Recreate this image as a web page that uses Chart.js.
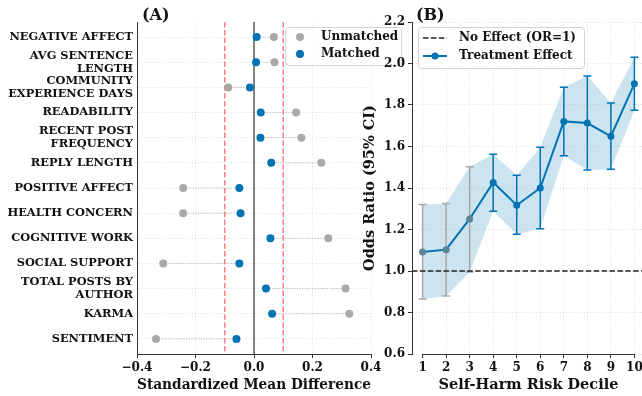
<!DOCTYPE html>
<html>
<head>
<meta charset="utf-8">
<script src="https://cdn.jsdelivr.net/npm/chart.js@4.4.1/dist/chart.umd.min.js"></script>
<style>
  html, body { margin: 0; padding: 0; background: #fff; overflow: hidden; }
  #wrap { position: relative; width: 642px; height: 396px; overflow: hidden; }
  canvas { position: absolute; left: 0; top: 0; }
</style>
</head>
<body>
<div id="wrap">
  <canvas id="smd" width="642" height="396"></canvas>
  <canvas id="odds" width="660" height="396"></canvas>
</div>
<script>
// Panel A - covariate balance before / after matching
const features = ['NEGATIVE AFFECT', 'AVG SENTENCE LENGTH', 'COMMUNITY EXPERIENCE DAYS', 'READABILITY',
                  'RECENT POST FREQUENCY', 'REPLY LENGTH', 'POSITIVE AFFECT', 'HEALTH CONCERN',
                  'COGNITIVE WORK', 'SOCIAL SUPPORT', 'TOTAL POSTS BY AUTHOR', 'KARMA', 'SENTIMENT'];
const unmatchedSMD = [0.068, 0.070, -0.088, 0.144, 0.162, 0.230, -0.242, -0.242, 0.254, -0.310, 0.313, 0.326, -0.335];
const matchedSMD   = [0.009, 0.007, -0.014, 0.023, 0.022, 0.059, -0.050, -0.046, 0.056, -0.050, 0.041, 0.062, -0.060];
const smdTicks = [-0.4, -0.2, 0.0, 0.2, 0.4];
const balanceLimit = 0.1;

// Panel B - odds ratio by risk decile
const deciles   = [1, 2, 3, 4, 5, 6, 7, 8, 9, 10];
const oddsRatio = [1.092, 1.103, 1.251, 1.427, 1.317, 1.400, 1.721, 1.713, 1.649, 1.903];
const ciLow     = [0.865, 0.880, 0.995, 1.288, 1.177, 1.204, 1.556, 1.487, 1.490, 1.775];
const ciHigh    = [1.320, 1.325, 1.502, 1.563, 1.461, 1.596, 1.885, 1.940, 1.810, 2.030];
const oddsTicks = [0.6, 0.8, 1.0, 1.2, 1.4, 1.6, 1.8, 2.0, 2.2];

const SERIF = '"DejaVu Serif", serif';
const BLUE = '#0173b2';
const GRAY = '#a9a9a9';
const GRID = 'rgba(0,0,0,0.14)';

Chart.defaults.font.family = SERIF;
Chart.defaults.font.weight = 'bold';
Chart.defaults.color = '#111';
Chart.defaults.animation = false;

function wrapLabel(text, width) {
    var lines = [], cur = '';
    text.split(' ').forEach(function(w){
        if (cur && (cur + ' ' + w).length > width) { lines.push(cur); cur = w; }
        else { cur = cur ? cur + ' ' + w : w; }
    });
    lines.push(cur);
    return lines;
}

function fmtTick(v){
    var s = Math.abs(v) < 1e-9 ? '0.0' : v.toFixed(1);
    return s.replace('-', '\u2212');
}

//Panel letter on top left of the plot area
const panelTitle = {
    id: 'panelTitle',
    afterDraw(chart, args, o){
        const ctx = chart.ctx;
        ctx.save();
        ctx.font = 'bold 16px ' + SERIF;
        ctx.fillStyle = '#111';
        ctx.textBaseline = 'middle';
        ctx.fillText(o.text, chart.chartArea.left + o.dx, 15.5);
        ctx.restore();
    }
};

//Framed legend drawn inside the plot
const boxLegend = {
    id: 'boxLegend',
    afterDraw(chart, args, o){
        const ctx = chart.ctx;
        ctx.save();
        ctx.fillStyle = 'rgba(255,255,255,0.8)';
        ctx.strokeStyle = '#d3d3d3';
        ctx.lineWidth = 1;
        ctx.beginPath();
        ctx.roundRect(o.x + 0.5, o.y + 0.5, o.w, o.h, 3);
        ctx.fill();
        ctx.stroke();
        ctx.font = 'bold 12px ' + SERIF;
        ctx.textBaseline = 'middle';
        o.items.forEach(function(it, k){
            const cy = o.y + o.first + k * o.step;
            const sx = o.x + o.symX;
            if (it.line) {
                ctx.strokeStyle = it.line;
                ctx.lineWidth = it.width;
                ctx.setLineDash(it.dash || []);
                ctx.beginPath();
                ctx.moveTo(sx - 12, cy);
                ctx.lineTo(sx + 12, cy);
                ctx.stroke();
                ctx.setLineDash([]);
            }
            if (it.dot) {
                ctx.fillStyle = it.dot;
                ctx.beginPath();
                ctx.arc(sx, cy, it.r, 0, Math.PI * 2);
                ctx.fill();
            }
            ctx.fillStyle = '#111';
            ctx.fillText(it.label, o.x + o.textX, cy);
        });
        ctx.restore();
    }
};

// ---------- Panel A ----------
const rowLabels = features.map(function(f){ return wrapLabel(f, 15); });
const rowMin = -0.6, rowMax = features.length - 1 + 0.6;

var connectors = [];
features.forEach(function(f, i){
    connectors.push({x: unmatchedSMD[i], y: i}, {x: matchedSMD[i], y: i}, {x: null, y: null});
});

new Chart(document.getElementById('smd'), {
    type: 'scatter',
    data: {
        datasets: [
            {
                label: 'Matched',
                data: features.map(function(f, i){ return {x: matchedSMD[i], y: i}; }),
                backgroundColor: BLUE, borderColor: BLUE, pointRadius: 4, borderWidth: 0
            },
            {
                label: 'Unmatched',
                data: features.map(function(f, i){ return {x: unmatchedSMD[i], y: i}; }),
                backgroundColor: GRAY, borderColor: GRAY, pointRadius: 4, borderWidth: 0
            },
            {
                data: connectors, showLine: true, spanGaps: false, pointRadius: 0,
                borderColor: 'rgba(150,150,150,0.7)', borderWidth: 1, borderDash: [1, 1.5]
            },
            {
                data: [{x: 0, y: rowMin}, {x: 0, y: rowMax}], showLine: true, pointRadius: 0,
                borderColor: 'rgba(0,0,0,0.6)', borderWidth: 1.6
            },
            {
                data: [{x: -balanceLimit, y: rowMin}, {x: -balanceLimit, y: rowMax}], showLine: true, pointRadius: 0,
                borderColor: 'rgba(255,0,0,0.5)', borderWidth: 1.5, borderDash: [5.5, 2.4]
            },
            {
                data: [{x: balanceLimit, y: rowMin}, {x: balanceLimit, y: rowMax}], showLine: true, pointRadius: 0,
                borderColor: 'rgba(255,0,0,0.5)', borderWidth: 1.5, borderDash: [5.5, 2.4]
            }
        ]
    },
    options: {
        responsive: false,
        devicePixelRatio: 1,
        layout: { padding: { left: 0, top: 22, right: 642 - 371, bottom: 0 } },
        plugins: {
            legend: { display: false },
            tooltip: { enabled: false },
            panelTitle: { text: '(A)', dx: 5 },
            boxLegend: {
                x: 285, y: 27, w: 116, h: 38, first: 10, step: 17, symX: 15, textX: 36,
                items: [
                    { label: 'Unmatched', dot: GRAY, r: 4 },
                    { label: 'Matched', dot: BLUE, r: 4 }
                ]
            }
        },
        scales: {
            x: {
                type: 'linear', min: -0.4, max: 0.4,
                afterBuildTicks: function(s){ s.ticks = smdTicks.map(function(v){ return {value: v}; }); },
                afterFit: function(s){ s.height = 42; },
                ticks: { callback: fmtTick, font: { size: 12, weight: 'bold' }, padding: 3, color: '#111', maxRotation: 0 },
                grid: { color: GRID, lineWidth: 0.8, tickLength: 4, tickColor: '#333', tickWidth: 1 },
                border: { display: true, color: '#333', width: 1, dash: [1, 2] },
                title: { display: true, text: 'Standardized Mean Difference', font: { size: 14.5, weight: 'bold' }, color: '#111', padding: { top: 0, bottom: 2 } }
            },
            y: {
                type: 'linear', reverse: true, min: rowMin, max: rowMax,
                afterBuildTicks: function(s){ s.ticks = features.map(function(f, i){ return {value: i}; }); },
                afterFit: function(s){ s.width = 137; },
                ticks: { autoSkip: false, callback: function(v){ return rowLabels[v]; }, font: { size: 11.4, weight: 'bold', lineHeight: 1.12 }, padding: 4, color: '#111' },
                grid: { drawTicks: false, color: GRID, lineWidth: 0.8 },
                border: { display: true, color: '#333', width: 1, dash: [1, 2] }
            }
        }
    },
    plugins: [panelTitle, boxLegend]
});

// ---------- Panel B ----------
const xMinB = 0.55, xMaxB = 10.45;

//CI error bars, drawn over the band
const errorBars = {
    id: 'errorBars',
    afterDatasetDraw(chart, args){
        if (args.index !== 2) return;
        const ctx = chart.ctx, x = chart.scales.x, y = chart.scales.y;
        ctx.save();
        ctx.lineWidth = 1.5;
        deciles.forEach(function(d, i){
            const px = x.getPixelForValue(d);
            const top = y.getPixelForValue(ciHigh[i]);
            const bot = y.getPixelForValue(ciLow[i]);
            ctx.strokeStyle = ciLow[i] > 1 ? BLUE : '#a8a8a8';
            ctx.beginPath();
            ctx.moveTo(px, top); ctx.lineTo(px, bot);
            ctx.moveTo(px - 4, top); ctx.lineTo(px + 4, top);
            ctx.moveTo(px - 4, bot); ctx.lineTo(px + 4, bot);
            ctx.stroke();
        });
        ctx.restore();
    }
};

//bottom spine trimmed to the first / last decile
const trimSpine = {
    id: 'trimSpine',
    afterDraw(chart){
        const ctx = chart.ctx, x = chart.scales.x;
        const yb = Math.round(chart.chartArea.bottom) + 0.5;
        ctx.save();
        ctx.strokeStyle = '#333';
        ctx.lineWidth = 1;
        ctx.beginPath();
        ctx.moveTo(x.getPixelForValue(deciles[0]), yb);
        ctx.lineTo(x.getPixelForValue(deciles[deciles.length - 1]), yb);
        ctx.stroke();
        ctx.restore();
    }
};

new Chart(document.getElementById('odds'), {
    type: 'line',
    data: {
        datasets: [
            {
                label: 'Treatment Effect',
                data: deciles.map(function(d, i){ return {x: d, y: oddsRatio[i]}; }),
                borderColor: BLUE, borderWidth: 2, tension: 0,
                pointRadius: 3.5, pointBorderWidth: 0,
                pointBackgroundColor: ciLow.map(function(l){ return l > 1 ? BLUE : '#5f8399'; })
            },
            {
                label: 'No Effect (OR=1)',
                data: [{x: xMinB, y: 1}, {x: xMaxB, y: 1}],
                borderColor: '#222', borderWidth: 1.5, borderDash: [5.5, 2.4], pointRadius: 0
            },
            {
                data: deciles.map(function(d, i){ return {x: d, y: ciHigh[i]}; }),
                borderWidth: 0, pointRadius: 0, fill: false
            },
            {
                data: deciles.map(function(d, i){ return {x: d, y: ciLow[i]}; }),
                borderWidth: 0, pointRadius: 0, fill: '-1', backgroundColor: 'rgba(1,115,178,0.2)'
            }
        ]
    },
    options: {
        responsive: false,
        devicePixelRatio: 1,
        layout: { padding: { left: 358, top: 22, right: 660 - 645, bottom: 0 } },
        plugins: {
            legend: { display: false },
            tooltip: { enabled: false },
            panelTitle: { text: '(B)', dx: 4 },
            boxLegend: {
                x: 418, y: 27, w: 166, h: 41, first: 11, step: 18, symX: 17, textX: 41,
                items: [
                    { label: 'No Effect (OR=1)', line: '#222', width: 1.5, dash: [5.5, 2.4] },
                    { label: 'Treatment Effect', line: BLUE, width: 2, dot: BLUE, r: 3.5 }
                ]
            }
        },
        scales: {
            x: {
                type: 'linear', min: xMinB, max: xMaxB,
                afterBuildTicks: function(s){ s.ticks = deciles.map(function(v){ return {value: v}; }); },
                afterFit: function(s){ s.height = 42; },
                ticks: { font: { size: 12, weight: 'bold' }, padding: 3, color: '#111', maxRotation: 0 },
                grid: { color: GRID, lineWidth: 0.8, tickLength: 4, tickColor: '#333', tickWidth: 1 },
                border: { display: false, dash: [1, 2] },
                title: { display: true, text: 'Self-Harm Risk Decile', font: { size: 14.5, weight: 'bold' }, color: '#111', padding: { top: 0, bottom: 2 } }
            },
            y: {
                type: 'linear', min: oddsTicks[0], max: oddsTicks[oddsTicks.length - 1],
                afterBuildTicks: function(s){ s.ticks = oddsTicks.map(function(v){ return {value: v}; }); },
                afterFit: function(s){ s.width = 412 - 358; },
                ticks: { callback: fmtTick, font: { size: 12, weight: 'bold' }, padding: 3, color: '#111' },
                grid: { color: GRID, lineWidth: 0.8, tickLength: 4, tickColor: '#333', tickWidth: 1 },
                border: { display: true, color: '#333', width: 1, dash: [1, 2] },
                title: { display: true, text: 'Odds Ratio (95% CI)', font: { size: 14.5, weight: 'bold' }, color: '#111', padding: { top: 4, bottom: 0 } }
            }
        }
    },
    plugins: [errorBars, trimSpine, panelTitle, boxLegend]
});
</script>
</body>
</html>
